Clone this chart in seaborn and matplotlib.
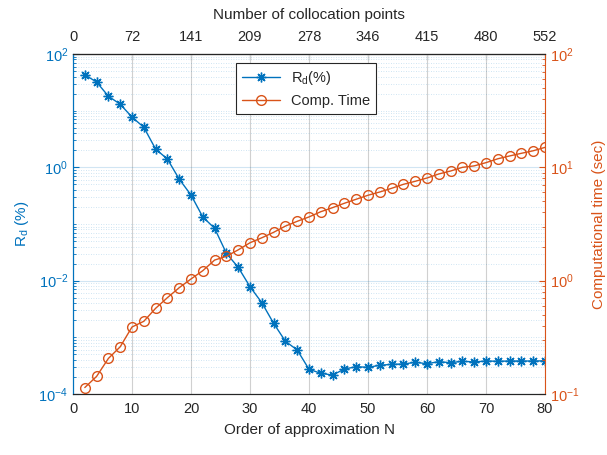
import numpy as np
import pandas as pd
import matplotlib
matplotlib.use("Agg")
import matplotlib.pyplot as plt
import matplotlib.ticker as mticker
import seaborn as sns

N = list(range(2, 81, 2))
rd = [43, 32, 18, 13, 7.7, 5.1, 2.1, 1.4, 0.62, 0.325, 0.133, 0.084,
      0.0304, 0.0172, 0.00783, 0.00409, 0.00177, 0.000853, 0.000598, 0.000273,
      0.000232, 0.000216, 0.000276, 0.000303, 0.000296, 0.000321, 0.000334, 0.000338,
      0.000362, 0.000343, 0.000372, 0.000357, 0.000378, 0.000367, 0.000382, 0.000378,
      0.000382, 0.000382, 0.000382, 0.000385]
comp_time = [0.114, 0.143, 0.206, 0.261, 0.390, 0.438, 0.570, 0.708, 0.867, 1.035,
             1.225, 1.52, 1.64, 1.87, 2.16, 2.39, 2.67, 3.03, 3.34, 3.65,
             4.06, 4.41, 4.82, 5.23, 5.67, 6.06, 6.53, 7.08, 7.53, 8.05,
             8.74, 9.28, 10.0, 10.3, 11.0, 11.9, 12.6, 13.3, 14.0, 15.0]
top_ticks = [0, 10, 20, 30, 40, 50, 60, 70, 80]
top_labels = ["0", "72", "141", "209", "278", "346", "415", "480", "552"]

BLUE = "#0072BD"
ORANGE = "#D95319"

sns.set_style("white")
plt.rcParams['font.family'] = ['Liberation Sans', 'DejaVu Sans']
plt.rcParams['mathtext.fontset'] = 'custom'
plt.rcParams['mathtext.rm'] = 'Liberation Sans'
plt.rcParams['mathtext.it'] = 'Liberation Sans'

df = pd.DataFrame({"N": N, "rd": rd, "t": comp_time})

fig = plt.figure(figsize=(6.07, 4.55), dpi=100)
ax = fig.add_axes([73/607, 1-394/455, (545-73)/607, (394-54)/455])
ax2 = ax.twinx()

sns.lineplot(data=df, x="N", y="rd", ax=ax, color=BLUE, marker=(8, 2, 0),
             markersize=7, markeredgecolor=BLUE, markeredgewidth=1.0, linewidth=1.0,
             label=r"R$_\mathregular{d}$(%)", legend=False)
sns.lineplot(data=df, x="N", y="t", ax=ax2, color=ORANGE, marker="o",
             markersize=7, markerfacecolor="none", markeredgecolor=ORANGE,
             markeredgewidth=1.0, linewidth=1.0, label="Comp. Time", legend=False)

ax.set_yscale("log")
ax2.set_yscale("log")
ax.set_xlim(0, 80)
ax.set_ylim(1e-4, 1e2)
ax2.set_ylim(1e-1, 1e2)

def fmt(v, pos):
    e = int(np.round(np.log10(v)))
    return r"$\mathregular{10^{%d}}$" % e

ax.yaxis.set_major_locator(mticker.FixedLocator([1e-4, 1e-2, 1e0, 1e2]))
ax.yaxis.set_major_formatter(mticker.FuncFormatter(fmt))
ax.yaxis.set_minor_locator(mticker.LogLocator(base=10, subs=np.arange(1, 10), numticks=30))
ax.yaxis.set_minor_formatter(mticker.NullFormatter())
ax2.yaxis.set_major_locator(mticker.FixedLocator([1e-1, 1e0, 1e1, 1e2]))
ax2.yaxis.set_major_formatter(mticker.FuncFormatter(fmt))
ax2.yaxis.set_minor_locator(mticker.LogLocator(base=10, subs=np.arange(2, 10), numticks=30))
ax2.yaxis.set_minor_formatter(mticker.NullFormatter())

ax.set_xticks(top_ticks)
ax.tick_params(axis="x", direction="in", length=4, labelsize=10.5, colors="#262626", top=False, pad=6)
ax.tick_params(axis="y", which="major", direction="in", length=4, labelsize=10.5, colors=BLUE)
ax.tick_params(axis="y", which="minor", direction="in", length=2, colors=BLUE)
ax2.tick_params(axis="y", which="major", direction="in", length=4, labelsize=10.5, colors=ORANGE)
ax2.tick_params(axis="y", which="minor", direction="in", length=2, colors=ORANGE)

ax.xaxis.grid(True, color="#d0d0d0", linewidth=0.8)
ax.yaxis.grid(True, which="major", color=BLUE, alpha=0.18, linewidth=0.8)
ax.yaxis.grid(True, which="minor", color=BLUE, alpha=0.25, linewidth=0.6, linestyle=(0, (1, 2)))
ax.set_axisbelow(True)

for s in ["top", "bottom"]:
    ax.spines[s].set_color("#262626")
    ax2.spines[s].set_color("#262626")
ax.spines["left"].set_color(BLUE)
ax2.spines["left"].set_color(BLUE)
ax2.spines["right"].set_color(ORANGE)
ax.spines["right"].set_visible(False)
for sp in ax2.spines.values():
    sp.set_linewidth(0.8)

ax.set_xlabel("Order of approximation N", fontsize=11, color="#262626", labelpad=5)
ax.set_ylabel(r"R$_\mathregular{d}$ (%)", fontsize=11, color=BLUE, labelpad=5)
ax2.set_ylabel("Computational time (sec)", fontsize=11, color=ORANGE, labelpad=9)

sec = ax.secondary_xaxis("top")
sec.set_xticks(top_ticks)
sec.set_xticklabels(top_labels)
sec.tick_params(direction="in", length=4, labelsize=10.5, colors="#262626", pad=7)
sec.spines["top"].set_color("#262626")
sec.set_xlabel("Number of collocation points", fontsize=11, color="#262626", labelpad=8)

h1, lab1 = ax.get_legend_handles_labels()
h2, lab2 = ax2.get_legend_handles_labels()
leg = ax2.legend(h1 + h2, lab1 + lab2, loc="upper center", bbox_to_anchor=(0.494, 0.995),
                 fontsize=10.5, frameon=True, fancybox=False, edgecolor="#262626",
                 framealpha=1, handlelength=2.6, borderpad=0.4, labelspacing=0.5)
leg.get_frame().set_linewidth(0.8)

fig.savefig("out.png", dpi=100)
